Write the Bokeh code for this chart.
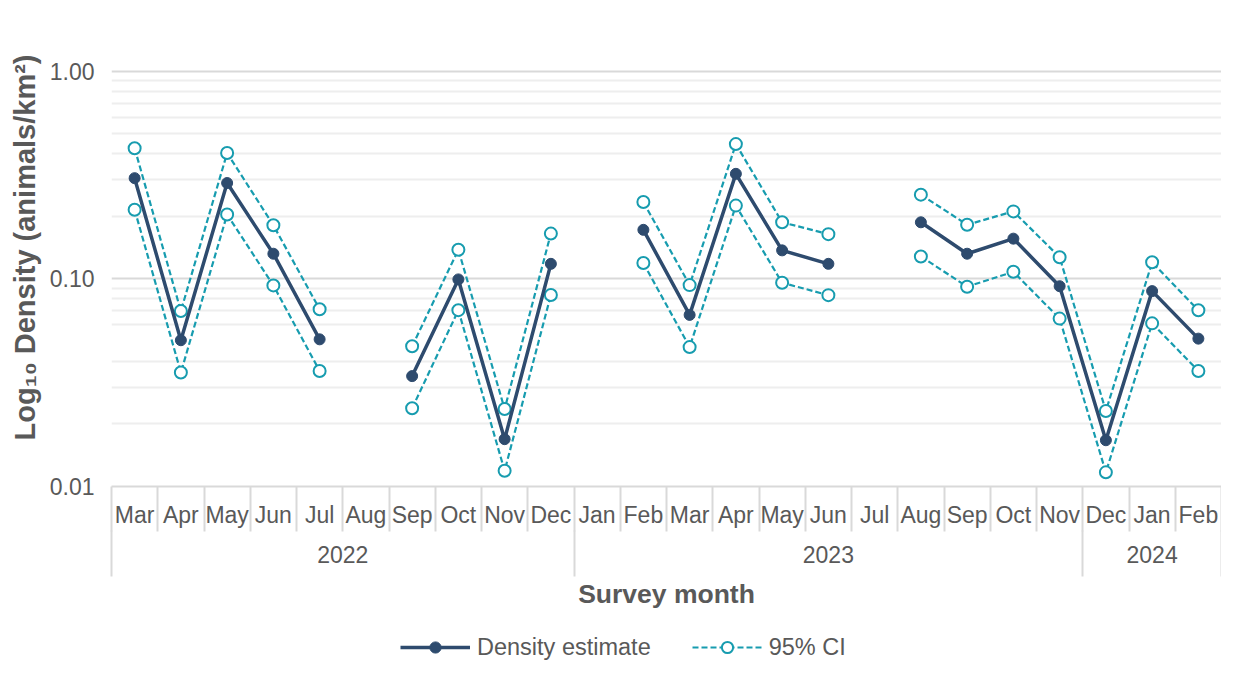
import numpy as np
from bokeh.plotting import figure
from bokeh.layouts import column
from bokeh.models import (Range1d, LinearAxis, FixedTicker,
                          PrintfTickFormatter, CustomJSTickFormatter, Legend, LegendItem,
                          ColumnDataSource)
from bokeh.embed import file_html
from bokeh.resources import INLINE

nan = np.nan

# ---------------- data ----------------
years = ["2022"] * 10 + ["2023"] * 11 + ["2024"] * 3
months = ["Mar", "Apr", "May", "Jun", "Jul", "Aug", "Sep", "Oct", "Nov", "Dec",
          "Jan", "Feb", "Mar", "Apr", "May", "Jun", "Jul", "Aug", "Sep", "Oct", "Nov",
          "Dec", "Jan", "Feb"]
density = [0.305, 0.0506, 0.289, 0.132, 0.0511, nan, 0.0340, 0.0993, 0.0169, 0.118,
           nan, 0.172, 0.0670, 0.320, 0.137, 0.118, nan, 0.187, 0.132, 0.156, 0.0921,
           0.0167, 0.0872, 0.0515]
ci_upper = [0.425, 0.0699, 0.403, 0.181, 0.0713, nan, 0.0473, 0.138, 0.0236, 0.165,
            nan, 0.234, 0.0932, 0.445, 0.187, 0.164, nan, 0.254, 0.182, 0.211, 0.127,
            0.0231, 0.120, 0.0705]
ci_lower = [0.215, 0.0354, 0.204, 0.0929, 0.0360, nan, 0.0238, 0.0706, 0.0119, 0.0836,
            nan, 0.119, 0.0469, 0.225, 0.0957, 0.0834, nan, 0.128, 0.0916, 0.108, 0.0643,
            0.0117, 0.0610, 0.0360]
y_ticks = [0.01, 0.1, 1.0]
major_grid = [0.1, 1.0]
minor_grid = [0.02, 0.03, 0.04, 0.06, 0.07, 0.08, 0.09,
              0.2, 0.3, 0.4, 0.5, 0.6, 0.7, 0.8, 0.9, 2.0]
y_min, y_max = 0.01, 2.0
series_labels = ["Density estimate", "95% CI"]

# ---------------- style ----------------
FONT = "Liberation Sans"
TXT = "#595959"
NAVY = "#2E4B6E"
TEAL = "#179CAF"
LIGHT = "#D9D9D9"

n = len(months)
slot_centers = np.arange(n) + 0.5   # one unit per survey month

groups = []
start = 0
for i in range(1, n + 1):
    if i == n or years[i] != years[start]:
        groups.append((years[start], start, i))
        start = i
group_names = [g[0] for g in groups]
group_centers = [(g[1] + g[2]) / 2 for g in groups]
group_edges = sorted({g[1] for g in groups} | {n})

src = ColumnDataSource(data=dict(
    x=slot_centers,
    est=np.array(density, dtype=float),
    hi=np.array(ci_upper, dtype=float),
    lo=np.array(ci_lower, dtype=float),
))

p = figure(width=1221, height=611,
           x_range=Range1d(0, n),
           y_range=Range1d(y_min, y_max), y_axis_type="log",
           x_axis_location=None,
           output_backend="svg", toolbar_location=None,
           min_border_left=111, min_border_right=0, min_border_top=8,
           min_border_bottom=0)
p.outline_line_color = None
p.xgrid.visible = False

# grid
p.ygrid.ticker = FixedTicker(ticks=major_grid, minor_ticks=minor_grid)
p.ygrid.grid_line_color = "#D9D9D9"
p.ygrid.grid_line_width = 2
p.ygrid.minor_grid_line_color = "#EEEEEE"
p.ygrid.minor_grid_line_width = 2

# y axis
ya = p.yaxis[0]
ya.ticker = FixedTicker(ticks=y_ticks)
ya.formatter = PrintfTickFormatter(format="%.2f")
ya.axis_line_color = None
ya.major_tick_line_color = None
ya.minor_tick_line_color = None
ya.major_tick_in = 0
ya.major_tick_out = 0
ya.major_label_standoff = 17
ya.major_label_text_font = FONT
ya.major_label_text_font_size = "23px"
ya.major_label_text_color = TXT
ya.axis_label = "Log\u2081\u2080 Density (animals/km\u00b2)"
ya.axis_label_text_font = FONT
ya.axis_label_text_font_style = "bold"
ya.axis_label_text_font_size = "29px"
ya.axis_label_text_color = TXT
ya.axis_label_standoff = 6

# x axes: month level and year level (separators drawn as outward minor ticks)
month_axis = LinearAxis(
    ticker=FixedTicker(ticks=list(slot_centers), minor_ticks=list(range(n + 1))),
    formatter=CustomJSTickFormatter(args=dict(labels=months),
                                    code="const i = Math.floor(tick); return (i >= 0 && i < labels.length) ? labels[i] : '';"),
    axis_line_color=LIGHT, axis_line_width=2,
    major_tick_line_color=None, major_tick_in=0, major_tick_out=0,
    minor_tick_line_color=LIGHT, minor_tick_line_width=2, minor_tick_in=-45, minor_tick_out=0,
    major_label_standoff=15, major_label_text_font=FONT,
    major_label_text_font_size="23px", major_label_text_color=TXT)
year_axis = LinearAxis(
    ticker=FixedTicker(ticks=group_centers, minor_ticks=group_edges),
    formatter=CustomJSTickFormatter(args=dict(centers=group_centers, names=group_names),
                                    code="for (let k = 0; k < centers.length; k++) { if (Math.abs(centers[k] - tick) < 1e-6) return names[k]; } return '';"),
    axis_line_color=None,
    major_tick_line_color=None, major_tick_in=0, major_tick_out=0,
    minor_tick_line_color=LIGHT, minor_tick_line_width=2, minor_tick_in=-46, minor_tick_out=0,
    major_label_standoff=15, major_label_text_font=FONT,
    major_label_text_font_size="23px", major_label_text_color=TXT,
    axis_label="Survey month", axis_label_standoff=13, axis_label_text_font=FONT,
    axis_label_text_font_style="bold", axis_label_text_font_size="26.5px",
    axis_label_text_color=TXT)
p.add_layout(month_axis, "below")
p.add_layout(year_axis, "below")

# data renderers
CI_LINE = dict(line_color=TEAL, line_width=2.2, line_dash="6 3")
CI_MARK = dict(size=12, marker="circle", fill_color="white", line_color=TEAL, line_width=2)
EST_LINE = dict(line_color=NAVY, line_width=3.5, line_join="round")
EST_MARK = dict(size=11, marker="circle", fill_color=NAVY, line_color=NAVY)

p.line("x", "hi", source=src, **CI_LINE)
p.scatter("x", "hi", source=src, **CI_MARK)
p.line("x", "lo", source=src, **CI_LINE)
p.scatter("x", "lo", source=src, **CI_MARK)
p.line("x", "est", source=src, **EST_LINE)
p.scatter("x", "est", source=src, **EST_MARK)

# legend strip below the chart (frame aligned with the chart's frame by the column)
q = figure(width=1221, height=50, x_range=Range1d(0, 1), y_range=Range1d(0, 1),
           x_axis_location=None, y_axis_location=None,
           output_backend="svg", toolbar_location=None,
           min_border_left=111, min_border_right=0, min_border_top=0, min_border_bottom=0)
q.outline_line_color = None
q.xgrid.visible = False
q.ygrid.visible = False
offscreen = ColumnDataSource(data=dict(x=[-5.0], y=[-5.0]))
k_el = q.line("x", "y", source=offscreen, **EST_LINE)
k_em = q.scatter("x", "y", source=offscreen, **EST_MARK)
k_cl = q.line("x", "y", source=offscreen, **CI_LINE)
k_cm = q.scatter("x", "y", source=offscreen, **CI_MARK)
legend = Legend(items=[LegendItem(label=series_labels[0], renderers=[k_el, k_em]),
                       LegendItem(label=series_labels[1], renderers=[k_cl, k_cm])],
                orientation="horizontal", location=(289, 0),
                glyph_width=70, glyph_height=28, label_standoff=7, spacing=41,
                padding=0, margin=0, border_line_color=None, background_fill_alpha=0,
                label_text_font=FONT, label_text_font_size="23.5px", label_text_color=TXT)
q.add_layout(legend)

open("out.html", "w").write(file_html(column(p, q), INLINE))
